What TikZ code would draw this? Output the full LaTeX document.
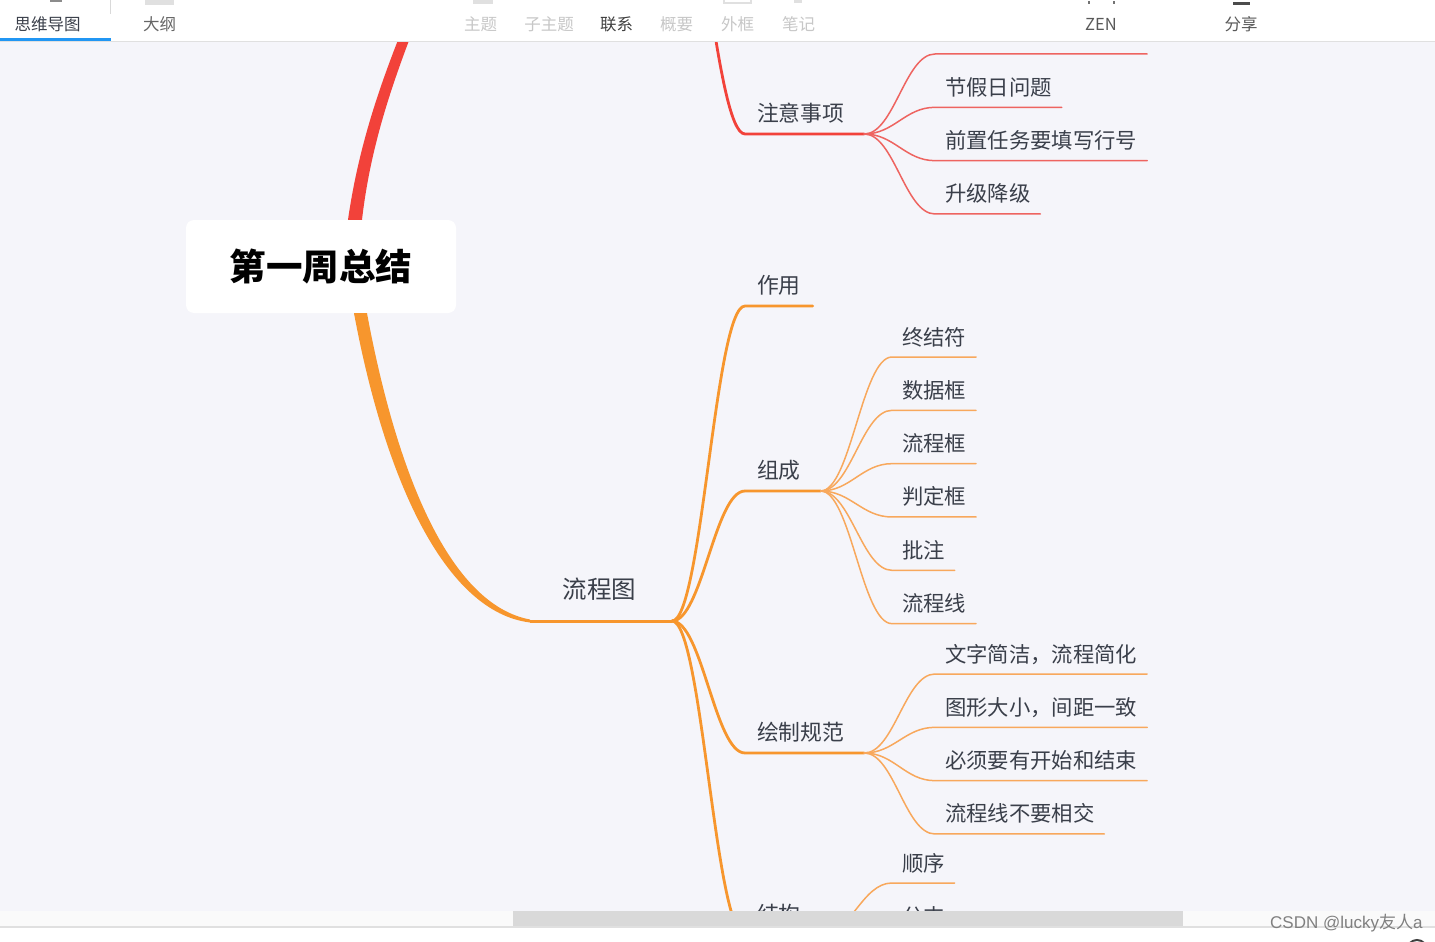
\documentclass[tikz,border=0pt]{standalone}
\usepackage{fontspec}
\setmainfont{Noto Sans CJK SC}
\setsansfont{Liberation Sans}
\usetikzlibrary{positioning, calc}

\definecolor{mapbg}{HTML}{F5F5FA}
\definecolor{mapred}{HTML}{F2423A}
\definecolor{maporange}{HTML}{F7962D}
\definecolor{twigred}{HTML}{EE6460}
\definecolor{twigorange}{HTML}{F8A85C}
\definecolor{maptext}{HTML}{3A3F4A}
\definecolor{tabblue}{HTML}{2196F3}

\begin{document}
\begin{tikzpicture}[x=1pt, y=-1pt]

\tikzset{
  rootbox/.style={
    rectangle, rounded corners=8pt, fill=white,
    minimum width=270pt, minimum height=93pt,
    font=\fontsize{36.5}{36.5}\selectfont\bfseries
  },
  topic/.style={
    text=maptext, inner xsep=0pt, inner ysep=17.7pt, outer sep=0pt,
    text height=20pt, text depth=5pt, minimum width=139pt,
    font=\fontsize{24.5}{24.5}\selectfont
  },
  subtopic/.style={
    text=maptext, inner xsep=12pt, inner ysep=7.5pt, outer sep=0pt, anchor=south west,
    text height=16pt, text depth=5pt,
    font=\fontsize{21.8}{21.8}\selectfont
  },
  leaf/.style={
    text=maptext, inner xsep=10pt, inner ysep=7pt, outer sep=0pt, anchor=south west,
    text height=16pt, text depth=5pt,
    font=\fontsize{21.35}{21.35}\selectfont
  },
  nextleaf/.style={below=18.33pt of #1.south west, anchor=north west},
  bough/.style={line width=2.8pt, line cap=round},
  twig/.style={line width=1.5pt, line cap=round},
  curved/.style={out=0, in=180, out distance=30pt, in distance=30pt},
  toollabel/.style={font=\fontsize{16.5}{16.5}\selectfont, text=#1, inner sep=0pt}
}

\clip (0,0) rectangle (1435,942);
\fill[mapbg] (0,0) rectangle (1435,942);

% =========================================================
% Root and first level
% =========================================================
\node[rootbox] (root) at (321,266.5) {第一周总结};
\node[topic, anchor=south west] (flow) at (530,621) {流程图};
\coordinate[right=3pt of flow.south east] (flowhub);
\coordinate (redtop) at (407,30);
\coordinate (redhub) at (670,-160);

\fill[mapred] ([xshift=27pt]root.north) .. controls (358,150) and (378,90) .. ([xshift=-5pt]redtop)
  -- ([xshift=6pt]redtop) .. controls (390,90) and (370,150) .. ([xshift=41pt]root.north) -- cycle;
\fill[maporange] ([xshift=33pt]root.south) .. controls (385,480) and (445,612) .. ([yshift=-1.5pt]flow.south west)
  -- ([yshift=1.5pt]flow.south west) .. controls (452,605) and (398,480) .. ([xshift=46pt]root.south) -- cycle;
\draw[maporange, line width=3pt] (flow.south west) -- (flowhub);

% =========================================================
% Red branch: 注意事项
% =========================================================
\node[subtopic] (note) at (745,134) {注意事项};
\coordinate[right=8pt of note.south east] (notehub);
\node[leaf, minimum width=212pt] (n0) at (935,54) {};
\node[leaf, nextleaf=n0] (n1) {节假日问题};
\node[leaf, nextleaf=n1] (n2) {前置任务要填写行号};
\node[leaf, nextleaf=n2] (n3) {升级降级};

\draw[mapred, bough] (redhub) to[curved] (note.south west) -- (note.south east) -- (notehub);
\draw[twigred, twig] (notehub) to[curved] (n0.south west) -- (n0.south east);
\draw[twigred, twig] (notehub) to[curved] (n1.south west) -- (n1.south east);
\draw[twigred, twig] (notehub) to[curved] (n2.south west) -- (n2.south east);
\draw[twigred, twig] (notehub) to[curved] (n3.south west) -- (n3.south east);

% =========================================================
% Orange branch: 作用, 组成
% =========================================================
\node[subtopic] (use) at (745,306) {作用};
\node[subtopic] (parts) at (745,491) {组成};
\coordinate[right=8pt of parts.south east] (partshub);
\node[leaf] (p1) at (892,357) {终结符};
\node[leaf, nextleaf=p1] (p2) {数据框};
\node[leaf, nextleaf=p2] (p3) {流程框};
\node[leaf, nextleaf=p3] (p4) {判定框};
\node[leaf, nextleaf=p4] (p5) {批注};
\node[leaf, nextleaf=p5] (p6) {流程线};

\draw[maporange, bough] (flowhub) to[curved] (use.south west) -- (use.south east);
\draw[maporange, bough] (flowhub) to[curved] (parts.south west) -- (parts.south east) -- (partshub);
\draw[twigorange, twig] (partshub) to[curved] (p1.south west) -- (p1.south east);
\draw[twigorange, twig] (partshub) to[curved] (p2.south west) -- (p2.south east);
\draw[twigorange, twig] (partshub) to[curved] (p3.south west) -- (p3.south east);
\draw[twigorange, twig] (partshub) to[curved] (p4.south west) -- (p4.south east);
\draw[twigorange, twig] (partshub) to[curved] (p5.south west) -- (p5.south east);
\draw[twigorange, twig] (partshub) to[curved] (p6.south west) -- (p6.south east);

% =========================================================
% Orange branch: 绘制规范
% =========================================================
\node[subtopic] (rule) at (745,753) {绘制规范};
\coordinate[right=8pt of rule.south east] (rulehub);
\node[leaf] (r1) at (935,674) {文字简洁，流程简化};
\node[leaf, nextleaf=r1] (r2) {图形大小，间距一致};
\node[leaf, nextleaf=r2] (r3) {必须要有开始和结束};
\node[leaf, nextleaf=r3] (r4) {流程线不要相交};

\draw[maporange, bough] (flowhub) to[curved] (rule.south west) -- (rule.south east) -- (rulehub);
\draw[twigorange, twig] (rulehub) to[curved] (r1.south west) -- (r1.south east);
\draw[twigorange, twig] (rulehub) to[curved] (r2.south west) -- (r2.south east);
\draw[twigorange, twig] (rulehub) to[curved] (r3.south west) -- (r3.south east);
\draw[twigorange, twig] (rulehub) to[curved] (r4.south west) -- (r4.south east);

% =========================================================
% Orange branch: 结构
% =========================================================
\node[subtopic] (shape) at (745,935) {结构};
\coordinate[right=8pt of shape.south east] (shapehub);
\node[leaf] (s1) at (892,883) {顺序};
\node[leaf, nextleaf=s1] (s2) {分支};

\draw[maporange, bough] (flowhub) to[curved] (shape.south west) -- (shape.south east) -- (shapehub);
\draw[twigorange, twig] (shapehub) to[curved] (s1.south west) -- (s1.south east);
\draw[twigorange, twig] (shapehub) to[curved] (s2.south west) -- (s2.south east);

% =========================================================
% Toolbar
% =========================================================
\fill[white] (0,0) rectangle (1435,41);
\fill[black!12] (0,41) rectangle (1435,42.5);
\fill[black!15] (110,0) rectangle (111,14);
\fill[black!12] (145,0) rectangle (174,5);
\fill[black!12] (473,0) rectangle (493,4);
\draw[black!12, line width=2pt] (724,-2) rectangle (751,3);
\fill[black!12] (794,0) rectangle (802,3);
\draw[black!55, line width=2pt] (1089,4) -- (1089,1) (1114,4) -- (1114,1);
\fill[black!70] (1233,2.5) rectangle (1250,5);
\fill[black!45] (50,0) rectangle (62,2);
\fill[tabblue] (0,38) rectangle (111,41);

\node[toollabel=maptext] (tabmap) at (47.5,24.5) {思维导图};
\node[toollabel=black!60] (tabout) at (159.5,24.5) {大纲};
\node[toollabel=black!22] (tool1) at (480.5,24.5) {主题};
\node[toollabel=black!22] (tool2) at (549,24.5) {子主题};
\node[toollabel=black!75] (tool3) at (616.5,24.5) {联系};
\node[toollabel=black!22] (tool4) at (676.5,24.5) {概要};
\node[toollabel=black!22] (tool5) at (737.5,24.5) {外框};
\node[toollabel=black!22] (tool6) at (798.5,24.5) {笔记};
\node[toollabel=black!65] (zen) at (1101,24.5) {ZEN};
\node[toollabel=black!65] (share) at (1241,24.5) {分享};

% =========================================================
% Scroll bar and status bar
% =========================================================
\fill[black!2] (0,911) rectangle (1435,926);
\fill[black!15] (513,911) rectangle (1183,926);
\fill[white] (0,926) rectangle (1435,942);
\fill[black!12] (0,926) rectangle (1435,927.5);
\node[font=\fontsize{17}{17}\selectfont, text=black!50, inner sep=0pt, anchor=west] (mark) at (1270,923.5) {{\sffamily CSDN @lucky}友人{\sffamily a}};
\draw[black!75, line width=2pt] (1417,950) circle (10pt);

\end{tikzpicture}
\end{document}
